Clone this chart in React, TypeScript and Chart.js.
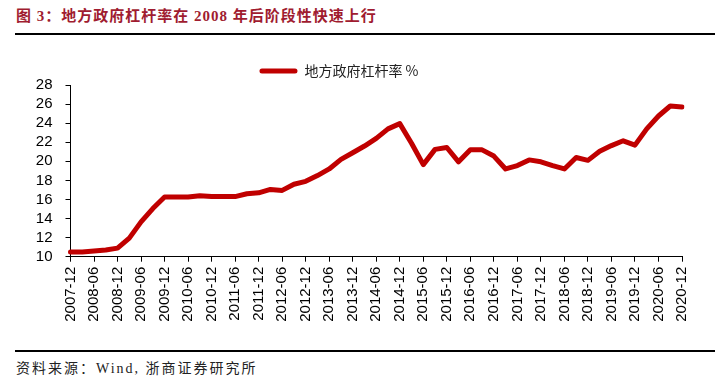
import React, { useEffect, useRef } from "react";
import { Chart, registerables } from "chart.js";

Chart.register(...registerables);

const TITLE = "图 3：地方政府杠杆率在 2008 年后阶段性快速上行";
const SOURCE = "资料来源：Wind, 浙商证券研究所";
const SERIES_NAME = "地方政府杠杆率 %";
const LINE_COLOR = "#C00000";

const quarters = [
  "2007-12", "2008-03", "2008-06", "2008-09", "2008-12", "2009-03", "2009-06", "2009-09",
  "2009-12", "2010-03", "2010-06", "2010-09", "2010-12", "2011-03", "2011-06", "2011-09",
  "2011-12", "2012-03", "2012-06", "2012-09", "2012-12", "2013-03", "2013-06", "2013-09",
  "2013-12", "2014-03", "2014-06", "2014-09", "2014-12", "2015-03", "2015-06", "2015-09",
  "2015-12", "2016-03", "2016-06", "2016-09", "2016-12", "2017-03", "2017-06", "2017-09",
  "2017-12", "2018-03", "2018-06", "2018-09", "2018-12", "2019-03", "2019-06", "2019-09",
  "2019-12", "2020-03", "2020-06", "2020-09", "2020-12",
];

const leverage = [
  10.5, 10.5, 10.6, 10.7, 10.9, 11.95, 13.65, 15.05,
  16.25, 16.25, 16.25, 16.4, 16.3, 16.3, 16.3, 16.6,
  16.7, 17.05, 16.95, 17.6, 17.9, 18.5, 19.2, 20.2,
  20.9, 21.6, 22.4, 23.4, 23.95, 21.9, 19.65, 21.25,
  21.45, 19.95, 21.2, 21.2, 20.55, 19.2, 19.55, 20.15,
  19.95, 19.55, 19.2, 20.4, 20.1, 21.05, 21.65, 22.15,
  21.7, 23.4, 24.75, 25.8, 25.7,
];

const Y_MIN = 10;
const Y_MAX = 28;
const Y_STEP = 2;

export default function App() {
  const canvasRef = useRef<HTMLCanvasElement | null>(null);

  useEffect(() => {
    if (!canvasRef.current) return;
    const shiftLegend = {
      id: "shiftLegend",
      afterLayout(chart: any) {
        const l = chart.legend;
        if (l) {
          l.left -= 2;
          l.right -= 2;
          l.top += 3;
          l.bottom += 3;
        }
      },
    };
    const chart = new Chart(canvasRef.current, {
      type: "line",
      data: {
        labels: quarters,
        datasets: [
          {
            label: SERIES_NAME,
            data: leverage,
            borderColor: LINE_COLOR,
            backgroundColor: LINE_COLOR,
            borderWidth: 5,
            pointRadius: 0,
            tension: 0,
            borderCapStyle: "round",
            borderJoinStyle: "round",
          },
        ],
      },
      plugins: [shiftLegend],
      options: {
        responsive: false,
        animation: false,
        devicePixelRatio: 1,
        layout: { padding: { top: 11, right: 33, left: 0, bottom: 0 } },
        plugins: {
          tooltip: { enabled: false },
          legend: {
            display: true,
            position: "top",
            align: "center",
            labels: {
              boxWidth: 38,
              boxHeight: 5,
              padding: 10,
              color: "#222",
              font: { family: '"Noto Sans CJK SC", sans-serif', size: 14 },
              useBorderRadius: true,
              borderRadius: 2.5,
              generateLabels: (c: any) =>
                (Chart.defaults.plugins.legend.labels as any)
                  .generateLabels(c)
                  .map((it: any) => ({ ...it, lineWidth: 0, fillStyle: LINE_COLOR, strokeStyle: LINE_COLOR })),
            },
          },
        },
        scales: {
          x: {
            type: "category",
            offset: false,
            afterFit: (s: any) => {
              s.height = 83.3;
            },
            grid: {
              display: true,
              drawOnChartArea: false,
              drawTicks: true,
              tickLength: 5,
              color: "#000",
            },
            border: { display: true, color: "#000", width: 1 },
            ticks: {
              autoSkip: false,
              maxRotation: 90,
              minRotation: 90,
              padding: 5,
              color: "#000",
              font: { family: '"Liberation Sans", Arial, sans-serif', size: 15 },
              callback: (_v: any, i: number) => (i % 2 === 0 ? quarters[i] : null),
            },
          },
          y: {
            min: Y_MIN,
            max: Y_MAX,
            afterFit: (s: any) => {
              s.width = 70.5;
            },
            grid: {
              display: true,
              drawOnChartArea: false,
              drawTicks: true,
              tickLength: 5,
              color: "#000",
            },
            border: { display: true, color: "#000", width: 1 },
            ticks: {
              stepSize: Y_STEP,
              autoSkip: false,
              padding: 13,
              color: "#000",
              font: { family: '"Liberation Sans", Arial, sans-serif', size: 15 },
            },
          },
        },
      },
    } as any);
    return () => chart.destroy();
  }, []);

  return (
    <div style={{ position: "absolute", left: 0, top: 0, width: 715, height: 384, background: "#fff", overflow: "hidden" }}>
      <div
        style={{
          position: "absolute",
          left: 16,
          top: 7,
          fontFamily: '"Liberation Serif", "Noto Sans CJK SC", serif',
          fontWeight: "bold",
          fontSize: 15,
          lineHeight: "18px",
          letterSpacing: 1,
          color: "#A01C30",
          whiteSpace: "nowrap",
        }}
      >
        {TITLE}
      </div>
      <div style={{ position: "absolute", left: 15, top: 33, width: 700, height: 1.5, background: "#000" }} />
      <canvas
        ref={canvasRef}
        width={715}
        height={300}
        style={{ position: "absolute", left: 0, top: 40, width: 715, height: 300 }}
      />
      <div style={{ position: "absolute", left: 15, top: 350, width: 700, height: 1.5, background: "#000" }} />
      <div
        style={{
          position: "absolute",
          left: 16,
          top: 360,
          fontFamily: '"Liberation Serif", "Noto Sans CJK SC", serif',
          fontSize: 14,
          lineHeight: "17px",
          letterSpacing: 2,
          color: "#222",
          whiteSpace: "nowrap",
        }}
      >
        {SOURCE}
      </div>
    </div>
  );
}
